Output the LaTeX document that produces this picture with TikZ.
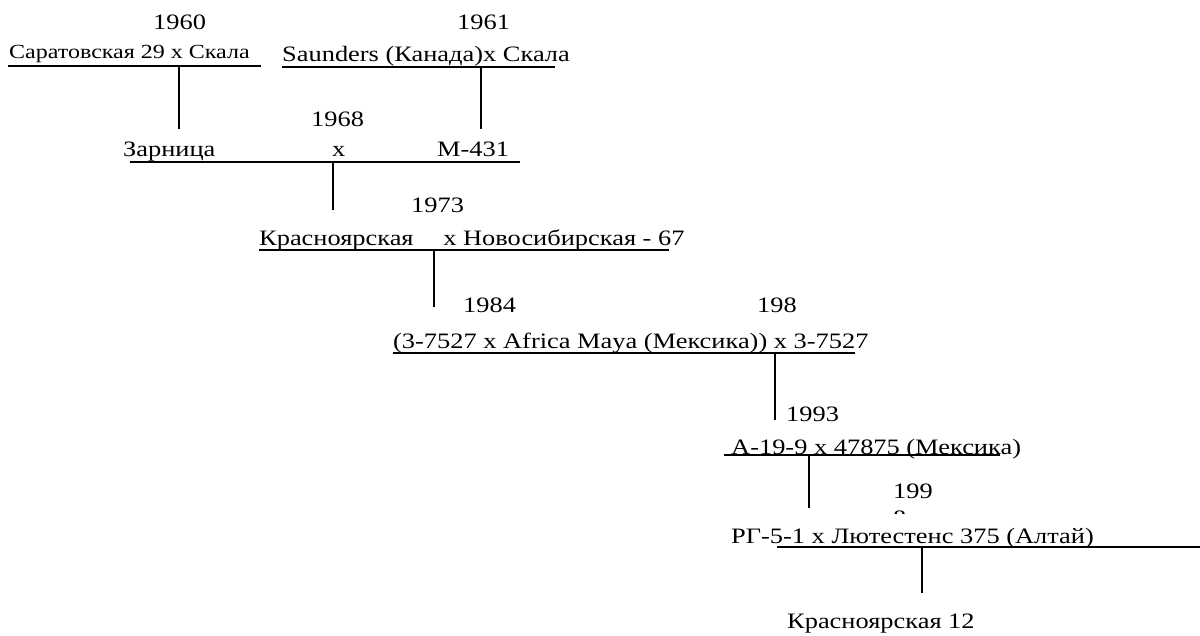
\documentclass[tikz,border=0pt]{standalone}
\usepackage{fontspec}
\setmainfont{Liberation Serif}[FakeStretch=1.2]
\begin{document}
\begin{tikzpicture}[x=1pt,y=-1pt,
  lbl/.style={anchor=base west,inner sep=0pt,font=\fontsize{22}{26}\selectfont},
  sml/.style={anchor=base west,inner sep=0pt,font=\fontsize{20}{24}\selectfont},
  rule/.style={line width=1.6pt},
  link/.style={line width=1.6pt}]
\useasboundingbox (0,0) rectangle (1200,635);
% texts
\node[lbl] (y1960) at (153,29) {1960};
\node[sml] (p1) at (9,58) {Саратовская 29 х Скала};
\node[lbl] (y1961) at (457,29) {1961};
\node[lbl] (p2) at (282,61) {Saunders (Канада)х Скала};
\node[lbl] (y1968) at (311,126) {1968};
\node[lbl] (zar) at (123,156) {Зарница};
\node[lbl] (x1) at (332,156) {х};
\node[lbl] (m431) at (437,156) {М-431};
\node[lbl] (y1973) at (411,212) {1973};
\node[lbl] (kras) at (259,245) {Красноярская\hspace{1.35em}х Новосибирская - 67};
\node[lbl] (y1984) at (463,312) {1984};
\node[lbl] (y198) at (757,312) {198};
\node[lbl] (afr) at (393,348) {(3-7527 х Africa Maya (Мексика)) х 3-7527};
\node[lbl] (y1993) at (786,421) {1993};
\node[lbl] (a19) at (731,454) {А-19-9 х 47875 (Мексика)};
\node[lbl] (y199) at (893,498) {199};
\begin{scope}
\clip (880,505) rectangle (920,513);
\node[lbl] (y8) at (893,525) {8};
\end{scope}
\node[lbl] (rg) at (731,543) {РГ-5-1 х Лютестенс 375 (Алтай)};
\node[lbl] (k12) at (787,628) {Красноярская 12};
% underlines
\coordinate (l1a) at (8,66);    \coordinate (l1b) at (261,66);
\coordinate (l2a) at (282,67);  \coordinate (l2b) at (555,67);
\coordinate (l3a) at (130,162); \coordinate (l3b) at (520,162);
\coordinate (l4a) at (259,250); \coordinate (l4b) at (669,250);
\coordinate (l5a) at (393,353); \coordinate (l5b) at (855,353);
\coordinate (l6a) at (724,455); \coordinate (l6b) at (1000,455);
\coordinate (l7a) at (777,547); \coordinate (l7b) at (1200,547);
\foreach \i in {1,...,7} \draw[rule] (l\i a) -- (l\i b);
% connectors
\coordinate (v1t) at (179,66);  \coordinate (v1b) at (179,129);
\coordinate (v2t) at (481,67);  \coordinate (v2b) at (481,129);
\coordinate (v3t) at (333,162); \coordinate (v3b) at (333,210);
\coordinate (v4t) at (434,250); \coordinate (v4b) at (434,307);
\coordinate (v5t) at (775,353); \coordinate (v5b) at (775,420);
\coordinate (v6t) at (809,455); \coordinate (v6b) at (809,508);
\coordinate (v7t) at (922,547); \coordinate (v7b) at (922,593);
\foreach \i in {1,...,7} \draw[link] (v\i t) -- (v\i b);
\end{tikzpicture}
\end{document}
